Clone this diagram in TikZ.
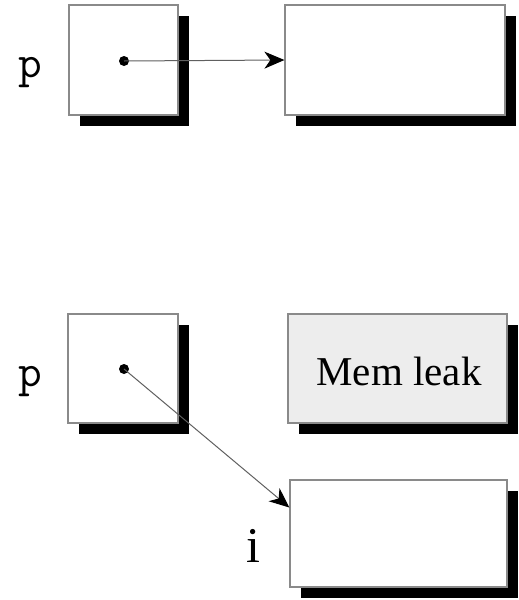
\documentclass[tikz,border=0pt]{standalone}
\usepackage{fontspec}
\setmainfont{Liberation Serif}
\usetikzlibrary{arrows.meta,shadows,calc}
\definecolor{boxline}{HTML}{8A8A8A}
\definecolor{leakfill}{HTML}{EDEDED}
\definecolor{wire}{HTML}{606060}
\tikzset{
  cell/.style={draw=boxline, line width=1.2pt, fill=white, inner sep=0pt,
    drop shadow={shadow xshift=11pt, shadow yshift=-11pt, fill=black, opacity=1}},
  ptr/.style={draw=wire, line width=1pt, -{Stealth[length=20pt,width=17pt,inset=6pt,fill=black,color=black]}},
  dotnode/.style={circle, fill=black, inner sep=0pt, minimum size=10pt},
  varlabel/.style={font=\ttfamily\fontsize{46}{46}\selectfont, anchor=base, inner sep=0pt},
  serlabel/.style={font=\rmfamily\fontsize{50}{50}\selectfont, anchor=base, inner sep=0pt}
}
\begin{document}
\begin{tikzpicture}[x=1pt,y=-1pt]
\useasboundingbox (0,0) rectangle (519,600);
% top
\node[cell, minimum width=109pt, minimum height=110pt] (b1) at (123.5,60) {};
\node[cell, minimum width=220pt, minimum height=110pt] (b2) at (395,60) {};
\node[dotnode] (d1) at (124,61) {};
\node[varlabel] (p1) at (30,77) {p};
\draw[ptr] (d1.center) -- (b2.west);
% bottom
\node[cell, minimum width=110pt, minimum height=109pt] (b3) at (123,368.5) {};
\node[cell, fill=leakfill, minimum width=219pt, minimum height=109pt] (leak) at (397.5,368.5) {};
\node[font=\fontsize{41}{41}\selectfont, anchor=base, inner sep=0pt] (leaktext) at (399,385) {Mem leak};
\node[cell, minimum width=217pt, minimum height=107pt] (b5) at (398.5,533.5) {};
\node[dotnode] (d2) at (124,369) {};
\node[varlabel] (p2) at (30,386) {p};
\node[serlabel] (i1) at (253.5,562) {i};
\coordinate (t5) at ($(b5.north west)!0.26!(b5.south west)$);
\draw[ptr] (d2.center) -- (t5);
\end{tikzpicture}
\end{document}
